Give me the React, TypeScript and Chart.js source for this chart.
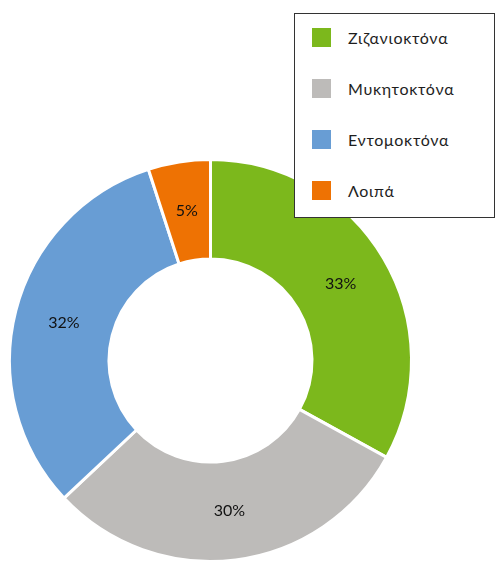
import React, { useEffect, useRef } from "react";
import { Chart, registerables } from "chart.js";

Chart.register(...registerables);

const categories = ["Ζιζανιοκτόνα", "Μυκητοκτόνα", "Εντομοκτόνα", "Λοιπά"];
const shares = [33, 30, 32, 5];
const sliceLabels = ["33%", "30%", "32%", "5%"];
const colors = ["#7cb81c", "#bdbbb9", "#689dd4", "#ee7203"];

const labelPlugin = {
  id: "sliceLabels",
  afterDatasetsDraw(chart: any) {
    const ctx = chart.ctx;
    const meta = chart.getDatasetMeta(0);
    ctx.save();
    ctx.fillStyle = "#111111";
    ctx.font = "16px Lato, 'DejaVu Sans', sans-serif";
    ctx.textAlign = "center";
    ctx.textBaseline = "middle";
    meta.data.forEach((arc: any, i: number) => {
      const p = arc.tooltipPosition();
      ctx.fillText(sliceLabels[i], p.x, p.y);
    });
    ctx.restore();
  },
};

export default function App() {
  const ref = useRef<HTMLCanvasElement>(null);
  useEffect(() => {
    document.body.style.margin = "0";
    if (!ref.current) return;
    const chart = new Chart(ref.current, {
      type: "doughnut",
      data: {
        labels: categories,
        datasets: [
          {
            data: shares,
            backgroundColor: colors,
            borderColor: "#ffffff",
            borderWidth: 3,
          },
        ],
      },
      options: {
        animation: false,
        responsive: false,
        cutout: "50.5%",
        layout: { padding: { left: 7, right: 85, top: 158, bottom: -2 } },
        plugins: {
          legend: { display: false },
          tooltip: { enabled: false },
        },
      },
      plugins: [labelPlugin],
    });
    return () => chart.destroy();
  }, []);

  return (
    <div style={{ position: "relative", width: 499, height: 563, background: "#fff", overflow: "hidden" }}>
      <canvas ref={ref} width={499} height={563} style={{ position: "absolute", left: 0, top: 0 }} />
      <div
        style={{
          position: "absolute",
          left: 294,
          top: 13,
          width: 199,
          height: 203,
          border: "1.5px solid #333",
          background: "#fff",
          fontFamily: "Lato, 'DejaVu Sans', sans-serif",
          fontSize: 16,
          color: "#1e1e1e",
        }}
      >
        {categories.map((c, i) => (
          <div
            key={c}
            style={{ position: "absolute", left: 17, top: 14 + i * 51, height: 19, display: "flex", alignItems: "center" }}
          >
            <span style={{ display: "inline-block", width: 19, height: 19, background: colors[i], marginRight: 17 }} />
            <span style={{ letterSpacing: 0.7 }}>{c}</span>
          </div>
        ))}
      </div>
    </div>
  );
}
